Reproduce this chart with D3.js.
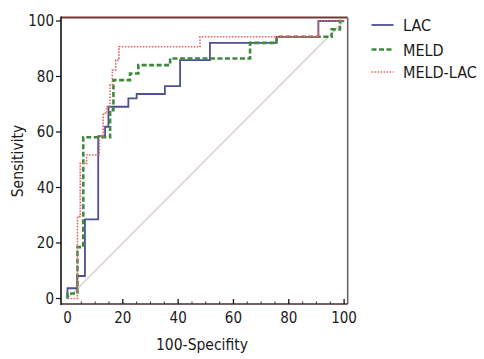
<!DOCTYPE html>
<html><head><meta charset="utf-8">
<script src="https://cdn.jsdelivr.net/npm/d3@7"></script>
<style>
html,body{margin:0;padding:0;background:#fff;}
svg{display:block;}
text{font-family:"DejaVu Sans Condensed","DejaVu Sans",sans-serif;font-stretch:condensed;fill:#1a1a1a;}
</style></head>
<body><svg id="chart" width="484" height="359"></svg>
<script>
// ---- data (100-Specificity, Sensitivity) ----
const seriesNames = ["LAC", "MELD", "MELD-LAC"];
const lacX = [0,0,3.5,3.5,6.3,6.3,11.1,11.1,13.6,13.6,14.8,14.8,22,22,25,25,35.2,35.2,40.7,40.7,51.5,51.5,75.6,75.6,90.7,90.7,100];
const lacY = [0,3.7,3.7,8.1,8.1,28.5,28.5,58.5,58.5,61.9,61.9,69.1,69.1,72.1,72.1,73.7,73.7,76.5,76.5,85.9,85.9,92.1,92.1,94.3,94.3,100,100];
const meldX = [0,0,3.6,3.6,5.7,5.7,15.4,15.4,16.6,16.6,22.6,22.6,25.6,25.6,37.1,37.1,66,66,75.6,75.6,95.5,95.5,98.5,98.5,100];
const meldY = [0,1.8,1.8,18.5,18.5,58.1,58.1,67.9,67.9,78.7,78.7,81.1,81.1,84.1,84.1,86.5,86.5,92.1,92.1,94.3,94.3,97,97,100,100];
const mlX = [0,3.6,3.6,4.6,4.6,6.9,6.9,11.5,11.5,12.9,12.9,14.2,14.2,15.4,15.4,16.2,16.2,17.4,17.4,18.6,18.6,47.9,47.9,90.7,90.7,100];
const mlY = [0,0,29.5,29.5,48.7,48.7,51.7,51.7,58.5,58.5,66.7,66.7,69.1,69.1,77,77,82.3,82.3,85.9,85.9,90.7,90.7,94.3,94.3,100,100];
const diagX = [0,100];
const diagY = [0,100];
const xTicks = [0,20,40,60,80,100];
const yTicks = [0,20,40,60,80,100];

const svg = d3.select("#chart");
const x = d3.scaleLinear().domain([0,100]).range([67.5,344.1]);
const y = d3.scaleLinear().domain([0,100]).range([298.5,21]);
const pLeft = 61, pRight = 347.7, pTop = 17.5, pBottom = 304;

const toPts = (xs, ys) => xs.map((v,i)=>[v, ys[i]]);
const line = d3.line().x(d=>x(d[0])).y(d=>y(d[1]));

// diagonal
svg.append("path").attr("d", line(toPts(diagX,diagY)))
  .attr("fill","none").attr("stroke","#dccdd0").attr("stroke-width",1.5);

const styles = {
  "LAC": {color:"#4f4f94", width:1.8, dash:null},
  "MELD": {color:"#3f8a3f", width:2.6, dash:"5,2.5"},
  "MELD-LAC": {color:"#e26a6a", width:1.6, dash:"1.6,1.4"}
};
const data = {"LAC":toPts(lacX,lacY), "MELD":toPts(meldX,meldY), "MELD-LAC":toPts(mlX,mlY)};

seriesNames.forEach(n=>{
  const s = styles[n];
  svg.append("path").attr("d", line(data[n])).attr("fill","none")
    .attr("stroke", s.color).attr("stroke-width", s.width)
    .attr("stroke-dasharray", s.dash);
});

// frame
svg.append("line").attr("x1",pLeft).attr("x2",pRight).attr("y1",pTop).attr("y2",pTop)
  .attr("stroke","#7a3535").attr("stroke-width",2);
svg.append("line").attr("x1",pRight).attr("x2",pRight).attr("y1",pTop).attr("y2",pBottom)
  .attr("stroke","#6e5e60").attr("stroke-width",1.5);
svg.append("line").attr("x1",pLeft).attr("x2",pRight).attr("y1",pBottom).attr("y2",pBottom)
  .attr("stroke","#4a2a2e").attr("stroke-width",1.6);
svg.append("line").attr("x1",pLeft).attr("x2",pLeft).attr("y1",pTop-1).attr("y2",pBottom+1)
  .attr("stroke","#111").attr("stroke-width",1.6);

// y ticks
yTicks.forEach(t=>{
  svg.append("line").attr("x1",pLeft-5).attr("x2",pLeft).attr("y1",y(t)).attr("y2",y(t))
    .attr("stroke","#111").attr("stroke-width",1.2);
  svg.append("text").attr("x",pLeft-7).attr("y",y(t)).attr("dy","0.36em")
    .attr("text-anchor","end").attr("font-size",15).text(t);
});
// x minor ticks
d3.range(5,100,5).filter(v=>v%20!==0).forEach(t=>{
  svg.append("line").attr("x1",x(t)).attr("x2",x(t)).attr("y1",pBottom).attr("y2",pBottom-2.5)
    .attr("stroke","#4a2a2e").attr("stroke-width",1);
});
xTicks.forEach(t=>{
  if (t>0) svg.append("line").attr("x1",x(t)).attr("x2",x(t)).attr("y1",pBottom).attr("y2",pBottom-5)
    .attr("stroke","#111").attr("stroke-width",1.3);
  svg.append("text").attr("x",x(t)).attr("y",pBottom+19)
    .attr("text-anchor","middle").attr("font-size",15).text(t);
});

// axis titles
svg.append("text").attr("x",202).attr("y",350).attr("text-anchor","middle")
  .attr("font-size",15.5).text("100-Specifity");
svg.append("text").attr("transform","translate(23,161) rotate(-90)").attr("text-anchor","middle")
  .attr("font-size",15.5).text("Sensitivity");

// legend
const legY = [25,49.5,72];
seriesNames.forEach((n,i)=>{
  const s = styles[n];
  svg.append("line").attr("x1",371.5).attr("x2",393.5).attr("y1",legY[i]).attr("y2",legY[i])
    .attr("stroke",s.color).attr("stroke-width",s.width).attr("stroke-dasharray",s.dash);
  svg.append("text").attr("x",403).attr("y",legY[i]).attr("dy","0.38em")
    .attr("font-size",16).text(n);
});
</script></body></html>
